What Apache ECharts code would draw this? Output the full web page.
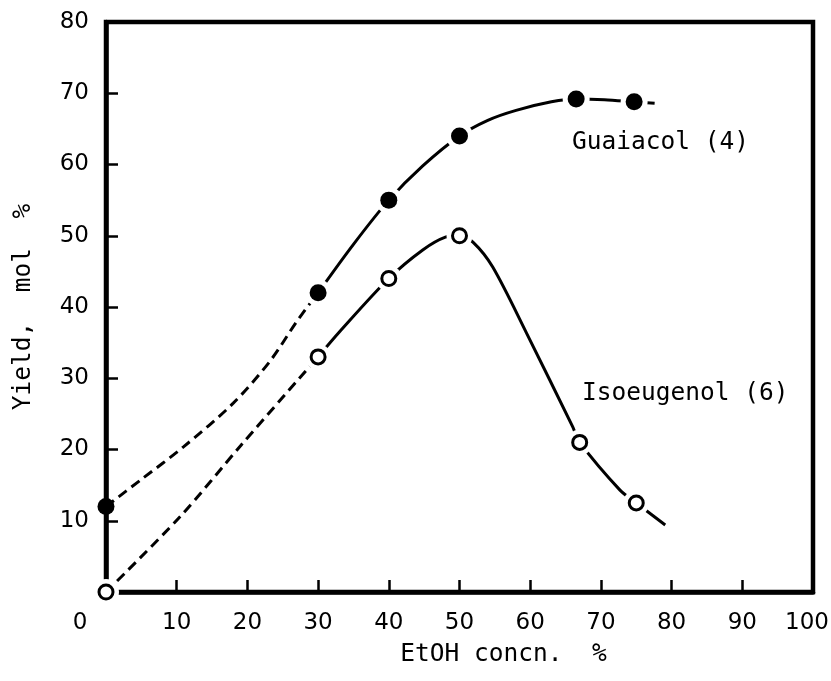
<!DOCTYPE html>
<html>
<head>
<meta charset="utf-8">
<script src="https://cdn.jsdelivr.net/npm/echarts@6/dist/echarts.min.js"></script>
<style>html,body{margin:0;padding:0;background:#fff}#c{width:831px;height:681px}</style>
</head>
<body>
<div id="c"></div>
<script>
// ---- data ----
var seriesNames = ['Guaiacol (4)', 'Isoeugenol (6)'];
var xAxisName = 'EtOH concn.  %';
var yAxisName = 'Yield,  mol  %';
var xTickLabels = ['0','10','20','30','40','50','60','70','80','90','100'];
var yTickLabels = ['','10','20','30','40','50','60','70','80'];

// measured points
var guaiacolX = [0, 30, 40, 50, 66.5, 74.7];
var guaiacolY = [12, 42, 55, 64, 69.2, 68.8];
var isoX = [0, 30, 40, 50, 67, 75];
var isoY = [0, 33, 44, 50, 21, 12.5];

// hand-drawn curves
var guaiacolDashed = [[0,12],[5,15.8],[11,20.4],[18,26.5],[23.2,32.4],[27,38],[30,42]];
var guaiacolSolid = [[30,42],[35,48.8],[40,55],[44.8,59.8],[50,64],[54,66.2],[58,67.6],[63,68.8],[66.5,69.2],[70.5,69.1],[74.7,68.8],[77.6,68.6]];
var isoDashed = [[0,0],[10.5,10.6],[19.1,20.6],[30,33]];
var isoSolid = [[30,33],[33.1,36.6],[40,44],[44.8,48],[48,49.8],[50,50],[51.9,49.1],[54.7,45.6],[59.5,36.3],[66,23.2],[67,21],[72.7,14.3],[75,12.5],[79.1,9.4]];

function zip(xs, ys){ return xs.map(function(x,i){ return [x, ys[i]]; }); }

var chart = echarts.init(document.getElementById('c'), null, {renderer:'canvas'});
var numFont = 'DejaVu Sans';
var monoFont = 'DejaVu Sans Mono';
var numSize = 23;
function lineSeries(data, dashed){
  return {type:'line', data:data, smooth:0.3, symbol:'none', silent:true, clip:false, z:2,
    lineStyle:{color:'#000', width:3, opacity:1, type: dashed ? [10,6] : 'solid'}};
}
var option = {
  animation:false,
  grid:{left:106, right:18, top:22, bottom:89, containLabel:false, outerBoundsMode:'none',
    show:true, borderColor:'#000', borderWidth:4.5, backgroundColor:'transparent'},
  xAxis:{type:'value', min:0, max:100, interval:10,
    name:xAxisName, nameLocation:'middle', nameGap:50,
    nameTextStyle:{fontFamily:monoFont, fontSize:24.5, color:'#000', padding:[0,0,0,88]},
    axisLine:{show:true, lineStyle:{color:'#000', width:4.5}},
    axisTick:{show:true, inside:true, length:12, lineStyle:{color:'#000', width:2.5}},
    splitLine:{show:false},
    axisLabel:{fontFamily:numFont, fontSize:numSize, color:'#000', margin:20,
      formatter:function(v){
        var s = xTickLabels[Math.round(v/10)];
        if (v===0) return '{z|'+s+'}';
        if (v===100) return '{e|'+s+'}';
        return s; },
      rich:{z:{fontFamily:numFont, fontSize:numSize, color:'#000', padding:[0,52,0,0]},
            e:{fontFamily:numFont, fontSize:numSize, color:'#000', padding:[0,12,0,0]}}}
  },
  yAxis:{type:'value', min:0, max:80, interval:10,
    name:yAxisName, nameLocation:'middle', nameGap:70, nameRotate:90,
    nameTextStyle:{fontFamily:monoFont, fontSize:24.5, color:'#000'},
    axisLine:{show:true, lineStyle:{color:'#000', width:4.5}},
    axisTick:{show:true, inside:true, length:12, lineStyle:{color:'#000', width:2.5}},
    splitLine:{show:false},
    axisLabel:{fontFamily:numFont, fontSize:numSize, color:'#000', margin:17,
      formatter:function(v){ return yTickLabels[Math.round(v/10)]; }}
  },
  series:[
    lineSeries(guaiacolDashed, true),
    lineSeries(guaiacolSolid, false),
    lineSeries(isoDashed, true),
    lineSeries(isoSolid, false),
    {type:'scatter', data:zip(guaiacolX, guaiacolY), silent:true, clip:false, z:3,
      symbol:'circle', symbolSize:function(v, p){ return p.dataIndex===0 ? 0 : 27; },
      itemStyle:{color:'#fff', opacity:1}},
    {type:'scatter', data:zip(isoX, isoY), silent:true, clip:false, z:3,
      symbol:'circle', symbolSize:26, itemStyle:{color:'#fff', opacity:1}},
    {type:'scatter', name:seriesNames[0], data:zip(guaiacolX, guaiacolY), silent:true, clip:false, z:4,
      symbol:'circle', symbolSize:17, itemStyle:{color:'#000', opacity:1}},
    {type:'scatter', name:seriesNames[1], data:zip(isoX, isoY), silent:true, clip:false, z:4,
      symbol:'circle', symbolSize:14, itemStyle:{color:'#fff', borderColor:'#000', borderWidth:3, opacity:1}}
  ],
  graphic:[
    {type:'text', x:572, y:143, silent:true, z:10,
      style:{text:seriesNames[0], fontFamily:monoFont, fontSize:24.5, fill:'#000', verticalAlign:'middle', align:'left'}},
    {type:'text', x:582, y:394, silent:true, z:10,
      style:{text:seriesNames[1], fontFamily:monoFont, fontSize:24.5, fill:'#000', verticalAlign:'middle', align:'left'}}
  ]
};
chart.setOption(option);
</script>
</body>
</html>
